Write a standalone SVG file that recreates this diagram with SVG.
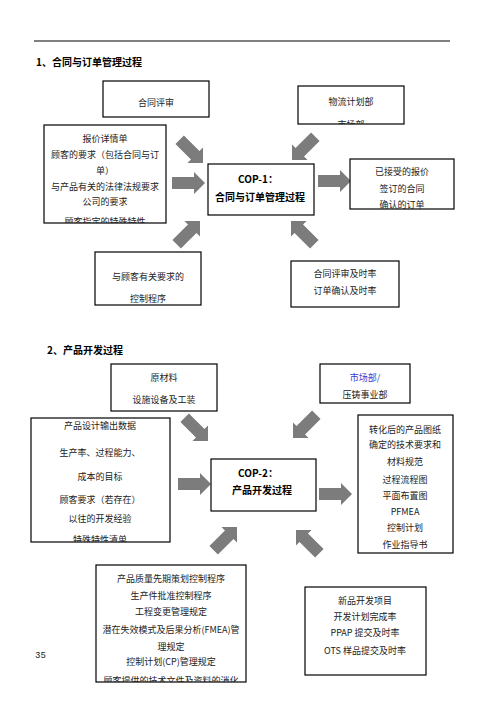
<svg xmlns="http://www.w3.org/2000/svg" width="496" height="702" viewBox="0 0 496 702">
<style>
.b{fill:#fff;stroke:#000;stroke-width:1.2}
.t{font-family:"Noto Sans CJK SC","Liberation Sans",sans-serif;font-size:9px;fill:#222;text-anchor:middle}
.h{font-family:"Noto Sans CJK SC","Liberation Sans",sans-serif;font-size:10px;font-weight:bold;fill:#000}
.c{font-family:"Noto Sans CJK SC","Liberation Sans",sans-serif;font-size:10px;font-weight:bold;fill:#000;text-anchor:middle}
.a{fill:#7c7c7c}
</style>
<defs>
<path id="arr" d="M-33,-6 H-11 V-11 L0,0 L-11,11 V6 H-33 Z"/>
<clipPath id="cp1"><rect x="298" y="86" width="106" height="38"/></clipPath>
<clipPath id="cp2"><rect x="44" y="125" width="122" height="98"/></clipPath>
<clipPath id="cp3"><rect x="350" y="159" width="104" height="50"/></clipPath>
<clipPath id="cp4"><rect x="31" y="418" width="139" height="124"/></clipPath>
<clipPath id="cp5"><rect x="96" y="565" width="150" height="117"/></clipPath>
</defs>
<rect width="496" height="702" fill="#fff"/>
<line x1="34" y1="41" x2="450" y2="41" stroke="#000" stroke-width="1"/>
<text class="h" x="36" y="66">1、合同与订单管理过程</text>
<text class="h" x="47" y="354">2、产品开发过程</text>
<text x="35" y="658" style="font-family:'Liberation Mono',monospace;font-size:9px;fill:#222">35</text>

<g id="connectors">
<use href="#arr" class="a" transform="translate(203,163) rotate(45)"/>
<use href="#arr" class="a" transform="translate(205,183)"/>
<use href="#arr" class="a" transform="translate(200,221) rotate(-45)"/>
<use href="#arr" class="a" transform="translate(292,160) rotate(135)"/>
<use href="#arr" class="a" transform="translate(351,181)"/>
<use href="#arr" class="a" transform="translate(291,221) rotate(-135)"/>
<use href="#arr" class="a" transform="translate(208,441) rotate(45)"/>
<use href="#arr" class="a" transform="translate(211,484)"/>
<use href="#arr" class="a" transform="translate(293,438) rotate(135)"/>
<use href="#arr" class="a" transform="translate(352,494)"/>
<use href="#arr" class="a" transform="translate(237,527) rotate(-45)"/>
<use href="#arr" class="a" transform="translate(296,530) rotate(-135)"/>
</g>

<g id="n1-review">
<rect class="b" x="103" y="81" width="106" height="36"/>
<text class="t" x="156" y="106">合同评审</text>
</g>
<g id="n1-logistics">
<rect class="b" x="298" y="86" width="106" height="38"/>
<g clip-path="url(#cp1)">
<text class="t" x="351" y="105">物流计划部</text>
<text class="t" x="351" y="128">市场部</text>
</g>
</g>
<g id="n1-inputs">
<rect class="b" x="44" y="125" width="122" height="98"/>
<g clip-path="url(#cp2)">
<text class="t" x="105" y="142">报价详情单</text>
<text class="t" x="105" y="158">顾客的要求（包括合同与订</text>
<text class="t" x="105" y="174">单）</text>
<text class="t" x="105" y="190">与产品有关的法律法规要求</text>
<text class="t" x="105" y="205">公司的要求</text>
<text class="t" x="105" y="225">顾客指定的特殊特性</text>
</g>
</g>
<g id="n1-center">
<rect class="b" x="208" y="164" width="106" height="51"/>
<text class="c" x="258" y="183">COP-1：</text>
<text class="c" x="260" y="201">合同与订单管理过程</text>
</g>
<g id="n1-outputs">
<rect class="b" x="350" y="159" width="104" height="50"/>
<g clip-path="url(#cp3)">
<text class="t" x="402" y="175">已接受的报价</text>
<text class="t" x="402" y="192">签订的合同</text>
<text class="t" x="402" y="208">确认的订单</text>
</g>
</g>
<g id="n1-procedure">
<rect class="b" x="95" y="252" width="106" height="53"/>
<text class="t" x="148" y="280">与顾客有关要求的</text>
<text class="t" x="148" y="302">控制程序</text>
</g>
<g id="n1-kpi">
<rect class="b" x="291" y="261" width="108" height="46"/>
<text class="t" x="345" y="277">合同评审及时率</text>
<text class="t" x="345" y="294">订单确认及时率</text>
</g>

<g id="n2-material">
<rect class="b" x="111" y="364" width="106" height="47"/>
<text class="t" x="164" y="381">原材料</text>
<text class="t" x="164" y="403">设施设备及工装</text>
</g>
<g id="n2-market">
<rect class="b" x="320" y="364" width="90" height="39"/>
<text class="t" x="365" y="381" style="fill:#3a3ad0">市场部/</text>
<text class="t" x="365" y="398">压铸事业部</text>
</g>
<g id="n2-inputs">
<rect class="b" x="31" y="418" width="139" height="124"/>
<g clip-path="url(#cp4)">
<text class="t" x="100" y="429">产品设计输出数据</text>
<text class="t" x="100" y="456">生产率、过程能力、</text>
<text class="t" x="100" y="480">成本的目标</text>
<text class="t" x="100" y="503">顾客要求（若存在）</text>
<text class="t" x="100" y="522">以往的开发经验</text>
<text class="t" x="100" y="543">特殊特性清单</text>
</g>
</g>
<g id="n2-center">
<rect class="b" x="211" y="459" width="105" height="52"/>
<text class="c" x="258" y="477">COP-2：</text>
<text class="c" x="262" y="494">产品开发过程</text>
</g>
<g id="n2-outputs">
<rect class="b" x="358" y="415" width="95" height="138"/>
<text class="t" x="405" y="433">转化后的产品图纸</text>
<text class="t" x="405" y="448">确定的技术要求和</text>
<text class="t" x="405" y="465">材料规范</text>
<text class="t" x="405" y="483">过程流程图</text>
<text class="t" x="405" y="499">平面布置图</text>
<text class="t" x="405" y="515">PFMEA</text>
<text class="t" x="405" y="531">控制计划</text>
<text class="t" x="405" y="548">作业指导书</text>
</g>
<g id="n2-procedures">
<rect class="b" x="96" y="565" width="150" height="117"/>
<g clip-path="url(#cp5)">
<text class="t" x="171" y="582">产品质量先期策划控制程序</text>
<text class="t" x="171" y="599">生产件批准控制程序</text>
<text class="t" x="171" y="615">工程变更管理规定</text>
<text class="t" x="171" y="633">潜在失效模式及后果分析(FMEA)管</text>
<text class="t" x="171" y="650">理规定</text>
<text class="t" x="171" y="665">控制计划(CP)管理规定</text>
<text class="t" x="171" y="684">顾客提供的技术文件及资料的消化</text>
</g>
</g>
<g id="n2-kpi">
<rect class="b" x="305" y="587" width="121" height="88"/>
<text class="t" x="365" y="604">新品开发项目</text>
<text class="t" x="365" y="620">开发计划完成率</text>
<text class="t" x="365" y="636">PPAP 提交及时率</text>
<text class="t" x="365" y="654">OTS 样品提交及时率</text>
</g>
</svg>
